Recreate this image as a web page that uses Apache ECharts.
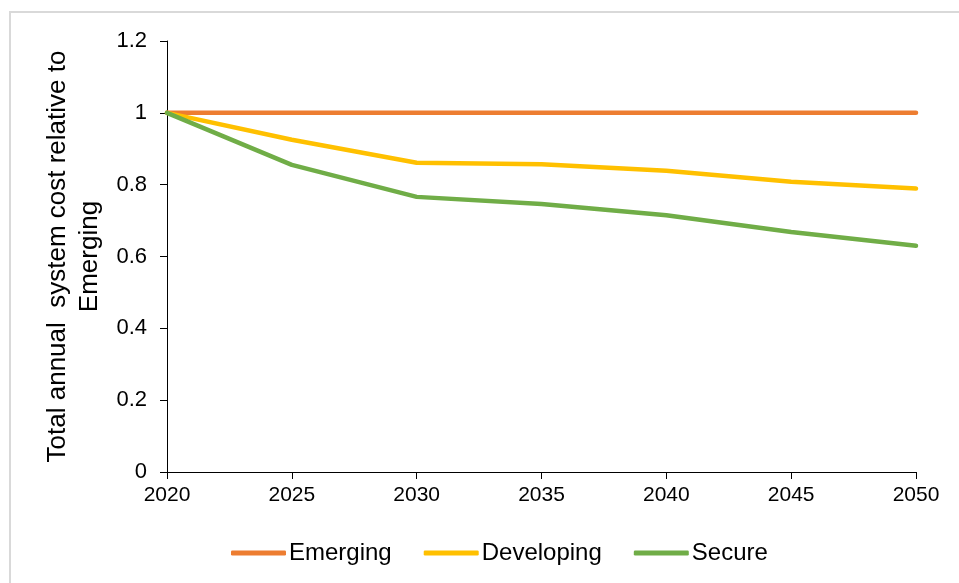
<!DOCTYPE html>
<html>
<head>
<meta charset="utf-8">
<script src="https://cdn.jsdelivr.net/npm/echarts@6/dist/echarts.min.js"></script>
<style>
html,body{margin:0;padding:0;background:#fff;}
#chart{width:959px;height:583px;}
</style>
</head>
<body>
<div id="chart"></div>
<script>
const years = ['2020','2025','2030','2035','2040','2045','2050'];
const emerging = [1, 1, 1, 1, 1, 1, 1];
const developing = [1, 0.925, 0.861, 0.857, 0.839, 0.808, 0.789];
const secure = [1, 0.855, 0.766, 0.746, 0.715, 0.668, 0.630];
const yTicks = [0, 0.2, 0.4, 0.6, 0.8, 1, 1.2];

const chart = echarts.init(document.getElementById('chart'), null, {renderer:'canvas'});
const font = 'Liberation Sans, Arial, sans-serif';
function mkSeries(name, data, color){
  return {name:name, type:'line', data:data, symbol:'none', smooth:false,
    lineStyle:{color:color, width:4.5, cap:'round', join:'round'}, itemStyle:{color:color}};
}
chart.setOption({
  animation:false,
  backgroundColor:'#fff',
  graphic:[{type:'rect', shape:{x:10, y:12, width:1000, height:600},
    style:{fill:'none', stroke:'#d9d9d9', lineWidth:2}, silent:true}],
  grid:{left:167, right:43, top:41, bottom:111},
  legend:{
    top:536, left:226, itemWidth:55, itemHeight:5, itemGap:32,
    icon:'roundRect',
    textStyle:{fontFamily:font, fontSize:24, color:'#000', padding:[0,0,0,-2]},
    data:['Emerging','Developing','Secure']
  },
  xAxis:{
    type:'category', data:years, boundaryGap:false,
    axisLine:{lineStyle:{color:'#000', width:1}},
    axisTick:{show:true, length:7, lineStyle:{color:'#000'}},
    axisLabel:{fontFamily:font, fontSize:21, color:'#000', margin:13},
    splitLine:{show:false}
  },
  yAxis:{
    type:'value', min:0, max:1.2, interval:0.2,
    name:'Total annual  system cost relative to\nEmerging',
    nameLocation:'middle', nameGap:54, nameRotate:90,
    nameTextStyle:{fontFamily:font, fontSize:26, color:'#000', lineHeight:32},
    axisLine:{show:true, lineStyle:{color:'#000', width:1}},
    axisTick:{show:true, length:7, lineStyle:{color:'#000'}},
    axisLabel:{fontFamily:font, fontSize:22, color:'#000', margin:20,
      formatter:function(v){return yTicks.indexOf(+v.toFixed(1))>=0 ? String(+v.toFixed(1)) : '';}},
    splitLine:{show:false}
  },
  series:[
    mkSeries('Emerging', emerging, '#ED7D31'),
    mkSeries('Developing', developing, '#FFC000'),
    mkSeries('Secure', secure, '#70AD47')
  ]
});
</script>
</body>
</html>
